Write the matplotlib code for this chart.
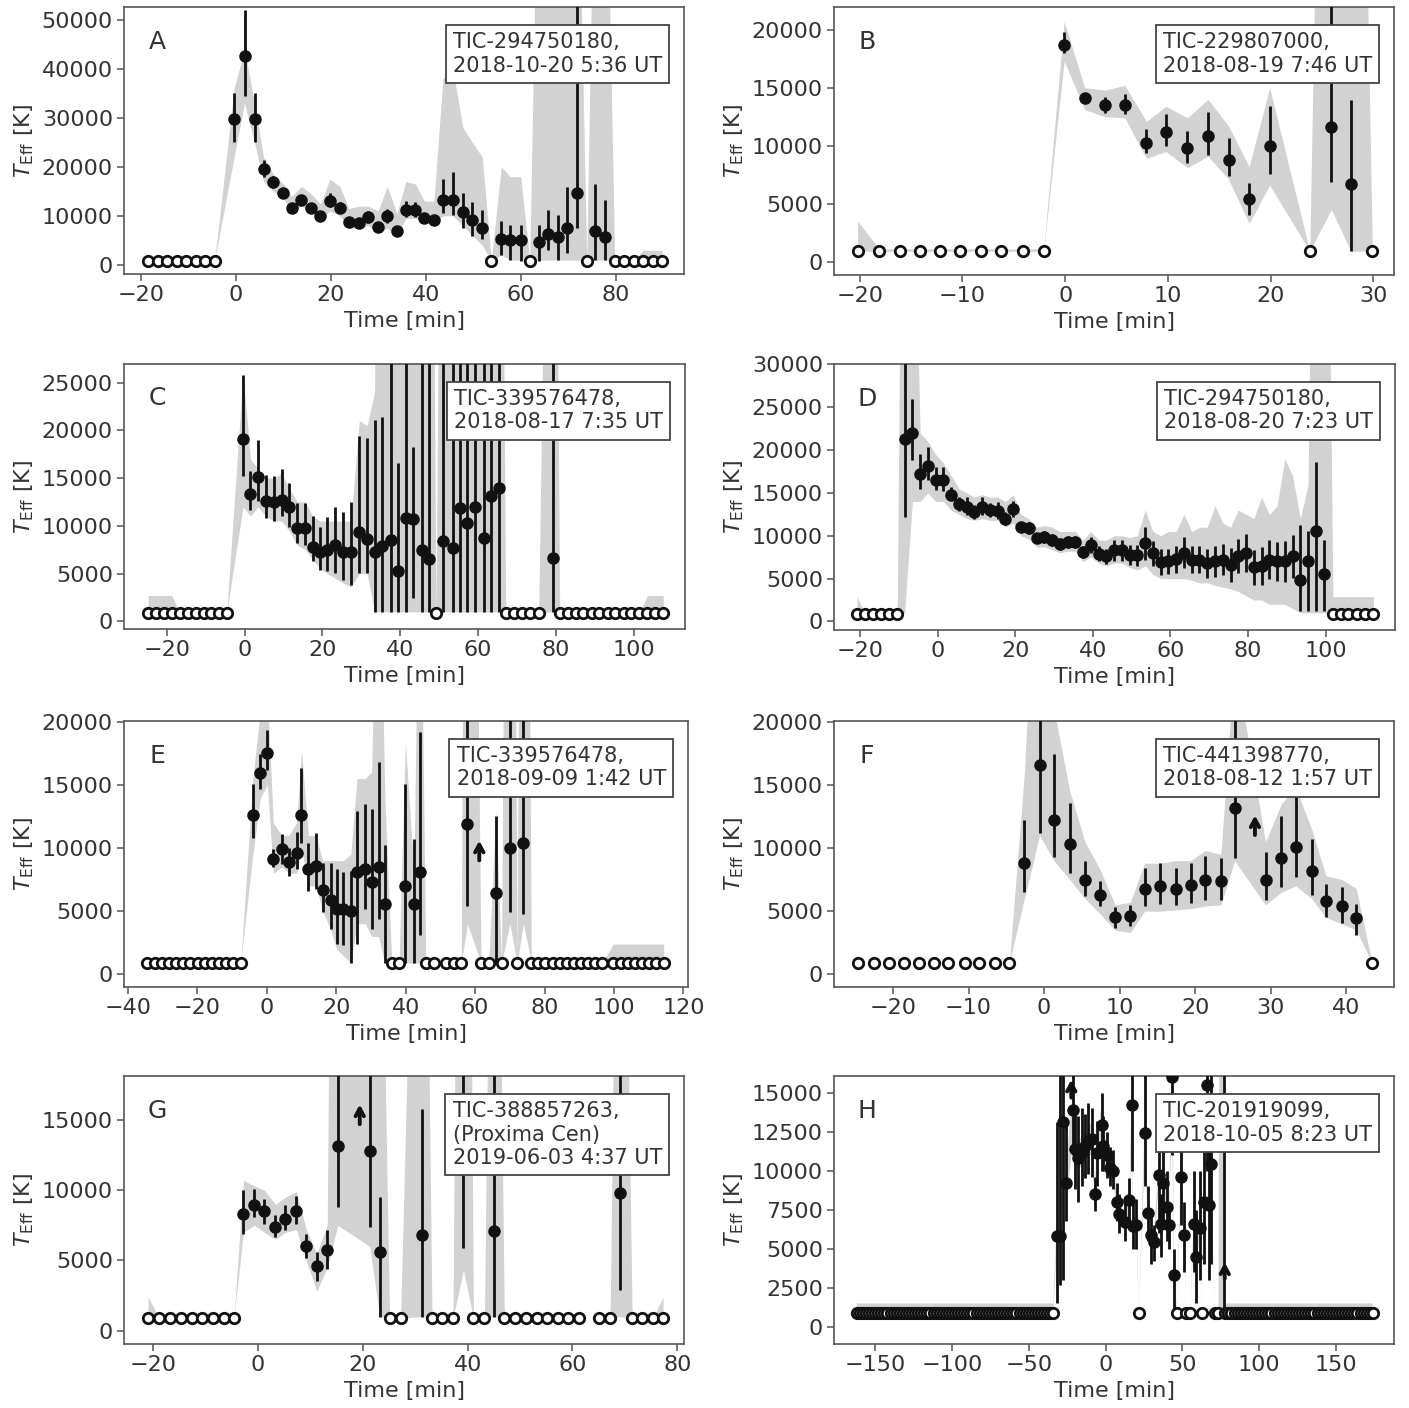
import numpy as np
import matplotlib.pyplot as plt

plt.rcParams['font.family'] = 'DejaVu Sans'
plt.rcParams['mathtext.fontset'] = 'dejavusans'

NONDET = 900      # level of the open circles (no detection)
OFF = 100000      # band edge that leaves the top of the panel

# ---------------- A ----------------
A_t = [-0.4, 1.8, 3.9, 5.8, 7.9, 10.0, 11.7, 13.8, 15.8, 17.8, 19.8, 21.9, 23.8, 25.9, 27.9, 29.9, 31.9,
       33.9, 35.8, 37.8, 39.7, 41.7, 43.6, 45.7, 47.8, 49.8, 51.9, 55.9, 57.8, 60.0, 63.8, 65.8, 67.9,
       69.8, 71.8, 75.7, 77.8]
A_T = [29700, 42700, 29700, 19600, 16900, 14700, 11700, 13200, 11700, 10000, 13100, 11700, 8700, 8500,
       9800, 7700, 10000, 7000, 11300, 11200, 9500, 9100, 13300, 13300, 10800, 9100, 7600, 5300, 5100,
       5100, 4600, 6400, 5600, 7500, 14700, 7000, 5600]
A_lo = [25000, 34400, 25000, 18000, 15600, 14000, 11300, 12300, 11200, 9500, 11800, 10800, 8200, 8000,
        8600, 7200, 8500, 6600, 9700, 9700, 8600, 8300, 10500, 10200, 7600, 6000, 5200, 2000, 1000, 700,
        700, 3000, 1000, 2400, 7500, 1000, 1000]
A_hi = [35000, 52000, 35000, 21500, 18200, 15400, 12200, 14300, 12200, 10500, 14600, 12800, 9200, 9000,
        11000, 8200, 11500, 7400, 13000, 12800, 10400, 10000, 17500, 19000, 14600, 12800, 11100, 9000,
        8100, 8100, 8100, 11200, 10100, 15800, 60000, 16600, 13200]
A_blo = [22000, 33000, 25000, 17000, 15000, 13500, 11000, 12000, 10800, 9500, 11000, 10000, 7500, 7500,
         8000, 6500, 7500, 6000, 9500, 9500, 8500, 8300, 10000, 10000, 8000, 6000, 4000, 2000, 1000, 1000,
         1000, 1000, 1000, 1000, 1000, 1000, 1000]
A_bhi = [36000, 44000, 33000, 22000, 18500, 16500, 14000, 16000, 14500, 12500, 17500, 16000, 11500,
         12000, 12000, 11000, 16000, 10500, 17000, 16500, 13000, 13000, 38000, 40000, 28000, 25000, 22000,
         20000, 18000, 18000, OFF, OFF, OFF, OFF, OFF, OFF, OFF]
A_tu = [-18.5, -16.5, -14.5, -12.5, -10.5, -8.5, -6.5, -4.5, 53.8, 61.9, 73.9, 79.8, 81.8, 83.8, 85.8,
        87.8, 89.8]
A_bu = [900, 900, 900, 900, 900, 900, 900, 900, 900, 900, 900, 900, 900, 900, 3000, 3000, 3000]

# ---------------- B ----------------
B_t = [-0.1, 1.9, 3.9, 5.8, 7.9, 9.8, 11.9, 13.9, 15.9, 17.9, 19.9, 25.9, 27.8]
B_T = [18700, 14100, 13500, 13500, 10200, 11200, 9800, 10850, 8800, 5400, 10000, 11600, 6700]
B_lo = [18000, 13800, 12800, 12700, 9400, 10000, 8500, 9200, 7400, 4000, 7600, 6900, 950]
B_hi = [19800, 14400, 14200, 14500, 11400, 12750, 11300, 12900, 10650, 6800, 13400, 30000, 13900]
B_blo = [17300, 13100, 12500, 12400, 8900, 9500, 8100, 9100, 7100, 3300, 6600, 4500, 900]
B_bhi = [20700, 15000, 14800, 15200, 12100, 13400, 12400, 14000, 11700, 8200, 15000, OFF, OFF]
B_tu = [-20.2, -18.1, -16.1, -14.1, -12.2, -10.2, -8.2, -6.2, -4.1, -2.1, 23.8, 29.9]
B_bu = [3500, 1100, 1100, 1100, 1100, 1100, 1100, 1100, 1100, 1100, 900, 900]

# ---------------- C ----------------
C_t = [-0.4, 1.5, 3.4, 5.5, 7.5, 9.5, 11.4, 13.5, 15.6, 17.5, 19.4, 21.3, 23.3, 25.4, 27.3, 29.5, 31.5,
       33.4, 35.4, 37.6, 39.5, 41.4, 43.3, 45.5, 47.5, 51.1, 53.5, 55.3, 57.2, 59.1, 61.5, 63.3, 65.4, 79.2]
C_T = [19100, 13300, 15100, 12650, 12550, 12700, 12000, 9800, 9800, 7800, 7250, 7500, 7950, 7250, 7250,
       9400, 8650, 7250, 7850, 8500, 5300, 10800, 10750, 7500, 6500, 8400, 7650, 11900, 10300, 12000,
       8700, 13100, 14000, 6600]
C_lo = [15200, 11700, 12600, 10800, 10500, 11000, 9900, 8200, 8000, 6300, 5400, 5300, 5050, 4350, 3800,
        5050, 5050, 1000, 1000, 1000, 1000, 1000, 2400, 1000, 1000, 1000, 1000, 1000, 1000, 1000, 1000,
        1000, 1000, 1000]
C_hi = [25800, 15700, 19000, 15300, 15200, 16000, 14500, 12400, 12400, 11000, 9900, 10900, 12000, 11500,
        12550, 19400, 19200, 21100, 21400, 30000, 16600, 30000, 18300, 30000, 30000, 30000, 30000, 30000,
        30000, 30000, 30000, 30000, 30000, 30000]
C_blo = [12000, 11000, 12000, 11000, 10500, 10500, 9500, 8000, 7500, 6500, 5500, 5000, 4500, 4000, 3600,
         5000, 5000, 1000, 1000, 1000, 1000, 1000, 1000, 1000, 1000, 1000, 1000, 1000, 1000, 1000, 1000,
         1000, 1000, 1000]
C_bhi = [26000, 17000, 16000, 15000, 15000, 15500, 14000, 12500, 12500, 11000, 10500, 10500, 10500,
         10500, 10500, 21000, 20500, 24000, OFF, OFF, OFF, OFF, OFF, OFF, OFF, OFF, OFF, OFF, OFF, OFF,
         OFF, OFF, OFF, OFF]
C_tu = [-24.8, -22.8, -20.7, -18.7, -16.7, -14.6, -12.6, -10.5, -8.6, -6.6, -4.6, 49.2, 67.1, 69.3, 71.3,
        73.4, 75.6, 81.0, 83.0, 85.1, 87.1, 89.2, 91.2, 93.3, 95.3, 97.4, 99.4, 101.5, 103.5, 105.6, 107.6]
C_bu = [2700, 2700, 2700, 2700, 900, 900, 900, 900, 900, 900, 900, 900, 900, 900, 900, 900, 900, 900,
        900, 900, 900, 900, 900, 900, 900, 900, 900, 900, 2700, 2700, 2700]

# ---------------- D ----------------
D_t = [-8.5, -6.5, -4.5, -2.5, -0.5, 1.5, 3.5, 5.5, 7.5, 9.5, 11.5, 13.5, 15.5, 17.5, 19.5, 21.5, 23.5,
       25.5, 27.5, 29.5, 31.5, 33.5, 35.5, 37.5, 39.5, 41.5, 43.5, 45.5, 47.5, 49.5, 51.5, 53.5, 55.5,
       57.5, 59.5, 61.5, 63.5, 65.5, 67.5, 69.5, 71.5, 73.5, 75.5, 77.5, 79.5, 81.5, 83.5, 85.5, 87.5,
       89.5, 91.5, 93.5, 95.5, 97.5, 99.5]
D_T = [21300, 22000, 17200, 18100, 16500, 16500, 14800, 13700, 13400, 12800, 13400, 13000, 12900, 12000,
       13100, 11000, 10850, 9700, 9800, 9500, 9000, 9300, 9300, 8100, 8900, 7900, 7600, 8300, 8300, 7750,
       7700, 9100, 7950, 6900, 7000, 7250, 8000, 7200, 7200, 6800, 7000, 7200, 6600, 7600, 7950, 6300,
       6500, 7200, 7000, 7000, 7600, 4800, 7000, 10600, 5500]
D_lo = [12200, 18800, 15500, 16500, 15300, 15200, 14100, 12900, 12400, 12000, 12400, 12200, 11900, 11200,
        12200, 10400, 10150, 9100, 9100, 8800, 8300, 8600, 8600, 7400, 8000, 7000, 6700, 7100, 7100, 6550,
        6500, 7200, 6500, 5400, 5500, 5650, 6200, 5600, 5600, 5100, 5200, 5400, 4600, 5600, 5750, 4300,
        4300, 4900, 4700, 4600, 5100, 1200, 1200, 1200, 1200]
D_hi = [40000, 26000, 19600, 20400, 18000, 18000, 15700, 14500, 14500, 13600, 14500, 13800, 13900, 12800,
        14100, 11600, 11550, 10300, 10500, 10200, 9700, 10000, 10000, 8800, 9800, 8800, 8500, 9500, 9500,
        8950, 8900, 11000, 9400, 8400, 8500, 8850, 9800, 8800, 8800, 8500, 8800, 9000, 8600, 9600, 10150,
        8300, 8700, 9500, 9300, 9400, 10100, 11200, 10500, 18600, 9500]
D_blo = [1000, 14000, 14000, 15000, 14000, 14000, 13000, 12500, 12000, 11800, 12000, 11800, 11800, 11000,
         11500, 10000, 9600, 8700, 8700, 8400, 8000, 8200, 8200, 7000, 7500, 6800, 6500, 6800, 6800, 6300,
         6000, 6500, 5500, 5000, 5000, 5000, 5000, 4800, 4500, 4500, 4200, 4000, 3800, 3500, 3000, 2500,
         2500, 2000, 2000, 2000, 1500, 1000, 1000, 1000, 1000]
D_bhi = [OFF, 60000, 22000, 21000, 19500, 18500, 17000, 15500, 15000, 14500, 14800, 14500, 14500, 14000,
         14800, 12500, 12000, 11000, 11200, 11000, 10500, 10500, 10500, 9500, 10500, 9500, 9500, 10000,
         10000, 9800, 10000, 13000, 10500, 10000, 10500, 10500, 12500, 10500, 11000, 11000, 13500, 11500,
         11000, 13000, 12500, 12000, 14500, 12500, 13500, 19000, 17000, 12000, 16000, OFF, OFF]
D_tu = [-20.8, -18.7, -16.7, -14.6, -12.5, -10.4, 101.9, 104.0, 105.9, 108.0, 110.1, 112.3]
D_bu = [2900, 900, 900, 900, 900, 900, 2900, 2900, 2900, 2900, 2900, 2900]

# ---------------- E ----------------
E_t = [-4.0, -1.8, 0.2, 1.9, 4.3, 6.4, 8.6, 10.0, 12.0, 14.2, 16.1, 18.5, 20.1, 22.0, 24.2, 26.0, 28.4,
       30.2, 32.2, 34.0, 39.9, 42.4, 44.0, 57.8, 66.0, 70.0, 73.9]
E_T = [12600, 15900, 17500, 9100, 9900, 8900, 9600, 12600, 8300, 8600, 6700, 5900, 5200, 5200, 5050,
       8100, 8300, 7300, 8500, 5600, 7000, 5600, 8100, 11900, 6400, 10000, 10400]
E_lo = [10800, 14700, 16200, 8500, 8700, 7800, 8300, 10400, 6600, 6750, 4900, 3600, 2400, 2300, 900,
        2400, 5200, 3600, 4400, 900, 900, 900, 3100, 5400, 900, 4900, 4800]
E_hi = [15100, 17400, 19300, 9900, 11100, 10000, 11300, 16300, 10400, 11200, 8850, 8850, 8300, 8100,
        8200, 12900, 13500, 13100, 16800, 10200, 15100, 10700, 19200, 50000, 12500, 50000, 50000]
E_blo = [9500, 14000, 15000, 8000, 8500, 8000, 8000, 10000, 7000, 7000, 5000, 3500, 2000, 1500, 900,
         4000, 4000, 3000, 3000, 900, 900, 900, 900, 4000, 900, 4000, 4000]
E_bhi = [15500, 21000, 22000, 12000, 11000, 11000, 12000, 17700, 11000, 11000, 9000, 9000, 9000, 9000,
         9500, 15500, 15500, 16000, 40000, 14000, 18500, 8000, 40000, OFF, 13000, OFF, OFF]
E_tu = [-34.4, -32.3, -30.2, -28.2, -26.1, -24.0, -22.0, -19.9, -17.8, -15.7, -13.7, -11.6, -9.6, -7.5,
        36.0, 38.1, 45.8, 48.1, 51.7, 53.9, 56.0, 61.7, 63.9, 67.6, 72.1, 76.2, 78.2, 80.2, 82.3, 84.3,
        86.4, 88.4, 90.5, 92.5, 94.6, 96.6, 99.8, 101.9, 104.0, 106.0, 108.1, 110.2, 112.2, 114.3]
E_bu = [900] * 36 + [2400] * 8
E_arrows = [(61.2, 8800, 10800)]

# ---------------- F ----------------
F_t = [-2.6, -0.6, 1.3, 3.4, 5.4, 7.4, 9.4, 11.4, 13.3, 15.4, 17.4, 19.4, 21.3, 23.4, 25.2, 29.3, 31.4,
       33.3, 35.4, 37.3, 39.4, 41.3]
F_T = [8800, 16600, 12200, 10300, 7500, 6300, 4500, 4650, 6750, 7000, 6750, 7050, 7500, 7350, 13200,
       7500, 9200, 10100, 8200, 5800, 5400, 4450]
F_lo = [6500, 11150, 9300, 8000, 6200, 5400, 3700, 3800, 5400, 5600, 5450, 5650, 5900, 5900, 9200, 5850,
        6900, 7700, 6300, 4500, 4100, 3100]
F_hi = [12200, 30000, 17400, 13600, 9000, 7400, 5300, 5500, 8400, 8800, 8450, 8800, 9400, 9200, 30000,
        9700, 12500, 14800, 10700, 7150, 6900, 5600]
F_blo = [6000, 11000, 9000, 7500, 6000, 4800, 3500, 3300, 5000, 5000, 5100, 5200, 5400, 5500, 9000, 5500,
         6500, 7000, 6000, 4500, 4000, 3500]
F_bhi = [16000, 40000, 21000, 14500, 10500, 8300, 5500, 5700, 8800, 8800, 9000, 9000, 9800, 9500, 25000,
         10500, 13500, 14800, 11500, 7800, 7500, 6800]
F_tu = [-24.6, -22.5, -20.5, -18.6, -16.6, -14.6, -12.7, -10.5, -8.6, -6.5, -4.6, 43.4]
F_bu = [900] * 12
F_arrows = [(27.9, 10800, 12800)]

# ---------------- G ----------------
G_t = [-2.8, -0.7, 1.2, 3.3, 5.2, 7.3, 9.2, 11.2, 13.2, 15.2, 21.3, 23.2, 31.3, 39.2, 45.1, 69.1]
G_T = [8300, 8950, 8500, 7400, 7950, 8500, 6000, 4600, 5750, 13150, 12800, 5600, 6800, 24000, 7100, 9800]
G_lo = [6900, 8100, 7600, 6700, 7200, 7600, 5200, 3500, 4400, 8800, 7400, 1000, 1000, 5900, 1000, 2900]
G_hi = [10000, 10100, 9400, 8200, 8950, 9600, 6900, 5600, 7200, 30000, 30000, 9500, 15800, 40000, 30000,
        30000]
G_blo = [7000, 7500, 7000, 6500, 7000, 7200, 5000, 2800, 4500, 7500, 6000, 1000, 1000, 4300, 1000, 1000]
G_bhi = [10700, 10300, 10000, 9000, 9500, 9900, 7200, 5500, 7500, OFF, OFF, 40000, 60000, OFF, 60000, 60000]
G_tu = [-21.0, -18.9, -16.9, -14.8, -12.7, -10.7, -8.6, -6.6, -4.6, 25.1, 27.2, 33.2, 35.1, 37.2, 41.1,
        43.2, 47.0, 49.1, 51.2, 53.2, 55.2, 57.2, 59.1, 61.2, 65.1, 67.2, 71.4, 73.3, 75.4, 77.3]
G_bu = [2400] + [900] * 28 + [2400]
G_arrows = [(19.4, 14500, 16300)]

# ---------------- H ----------------
H_t = [-31.8, -29.6, -27.6, -25.5, -21.0, -19.9, -17.8, -15.6, -13.4, -11.2, -9.1, -6.9, -5.8, -2.6, -1.5,
       0.7, 2.9, 5.1, 7.2, 8.8, 12.4, 15.5, 17.2, 18.0, 19.8, 25.5, 27.4, 29.8, 31.5, 34.6, 36.3, 37.5,
       39.9, 41.1, 43.4, 44.6, 48.9, 51.3, 57.5, 59.0, 61.5, 64.2, 66.1, 67.3, 68.5, 76.8]
H_T = [5800, 5800, 13100, 9200, 13900, 11400, 10800, 11200, 11600, 11900, 12000, 8500, 11100, 12900,
       11600, 11000, 10200, 10000, 8000, 7250, 6700, 8100, 14200, 6450, 6550, 12400, 7300, 5900, 5400,
       9700, 6600, 9200, 7700, 6500, 16000, 3350, 9600, 5900, 6600, 4500, 6300, 8000, 15500, 7800, 10400,
       20000]
H_lo = [1500, 2700, 3000, 6800, 11000, 8800, 8000, 9000, 9500, 9800, 9600, 7400, 9000, 10000, 10000,
        9500, 9000, 8800, 6800, 6000, 5500, 6500, 10000, 5000, 5000, 9000, 5500, 4000, 4200, 6000, 4500,
        6500, 5500, 5000, 11000, 900, 6500, 3500, 3500, 1500, 3000, 4000, 10000, 3000, 4000, 900]
H_hi = [13100, 16100, 17000, 13400, 17000, 13800, 13500, 14000, 13600, 14300, 14000, 9600, 13200, 15000,
        13500, 12500, 11500, 11300, 9200, 8500, 8000, 9500, 17000, 8000, 8200, 17000, 9000, 7500, 6500,
        12000, 8500, 12000, 10000, 8000, 20000, 5000, 13000, 8000, 10000, 7500, 10000, 13000, 18000, 12000,
        17000, 30000]
H_blo = [5000, 5000, 11000, 8000, 12000, 10500, 10000, 10300, 10500, 11000, 11000, 8000, 10300, 11500,
         10800, 10200, 9500, 9300, 7500, 6700, 6200, 7500, 12500, 6000, 6000, 11000, 6800, 5500, 5000,
         9000, 6000, 8500, 7000, 6000, 14000, 900, 8500, 5500, 6000, 4000, 5800, 7300, 14000, 7000, 9500, 900]
H_bhi = [6800, 7000, 15000, 10500, 15500, 12500, 11800, 12200, 12800, 12900, 13000, 9000, 12000, 14200,
         12500, 11800, 10900, 10700, 8600, 7800, 7300, 8800, 15800, 7000, 7200, 13500, 7900, 6400, 5900,
         10500, 7200, 10000, 8400, 7000, 17500, 4000, 10500, 6400, 7200, 5000, 6800, 8800, 17000, 8600,
         11300, OFF]
H_tu = [-162, -160, -158, -156, -154, -152, -150, -148, -146, -144, -142, -140, -138, -136, -134, -132,
        -130, -128, -126, -124, -122, -120, -118, -116, -114, -112, -110, -108, -106, -104, -102, -100,
        -98, -96, -94, -92, -90, -88, -86, -84, -82, -80, -78, -76, -74, -72, -70, -68, -66, -64, -62, -60,
        -58, -56, -54, -52, -50, -48, -46, -44, -42, -40, -38, -36, -34,
        21.8, 46.5, 52.5, 55.0, 63.0, 71.0, 73.5,
        78, 80, 82, 84, 86, 88, 90, 92, 94, 96, 98, 100, 102, 104, 106, 108, 110, 112, 114, 116, 118, 120,
        122, 124, 126, 128, 130, 132, 134, 136, 138, 140, 142, 144, 146, 148, 150, 152, 154, 156, 158, 160,
        162, 164, 166, 168, 170, 172, 174]
H_bu = [1500] * 65 + [900] * 7 + [1500] * 49
H_arrows = [(-22.3, 14500, 16000), (77.6, 2900, 4300)]

# ----------- panel geometry in pixels (left, top, right, bottom) -----------
W, H = 1409, 1408
panels = [
    ('A', (124, 7, 684, 274), 'TIC-294750180,\n2018-10-20 5:36 UT',
     A_t, A_T, A_lo, A_hi, A_blo, A_bhi, A_tu, A_bu, [],
     (-23.6, 94.4), (-1850, 52600), range(-20, 81, 20), range(0, 50001, 10000)),
    ('B', (834, 7, 1394, 275), 'TIC-229807000,\n2018-08-19 7:46 UT',
     B_t, B_T, B_lo, B_hi, B_blo, B_bhi, B_tu, B_bu, [],
     (-22.5, 32.0), (-1150, 21960), range(-20, 31, 10), range(0, 20001, 5000)),
    ('C', (124, 364, 685, 629), 'TIC-339576478,\n2018-08-17 7:35 UT',
     C_t, C_T, C_lo, C_hi, C_blo, C_bhi, C_tu, C_bu, [],
     (-31.0, 113.2), (-800, 26950), range(-20, 101, 20), range(0, 25001, 5000)),
    ('D', (834, 364, 1395, 630), 'TIC-294750180,\n2018-08-20 7:23 UT',
     D_t, D_T, D_lo, D_hi, D_blo, D_bhi, D_tu, D_bu, [],
     (-26.7, 117.9), (-1000, 30050), range(-20, 101, 20), range(0, 30001, 5000)),
    ('E', (124, 721, 688, 987), 'TIC-339576478,\n2018-09-09 1:42 UT',
     E_t, E_T, E_lo, E_hi, E_blo, E_bhi, E_tu, E_bu, E_arrows,
     (-41.1, 121.3), (-1000, 20050), range(-40, 121, 20), range(0, 20001, 5000)),
    ('F', (834, 721, 1394, 987), 'TIC-441398770,\n2018-08-12 1:57 UT',
     F_t, F_T, F_lo, F_hi, F_blo, F_bhi, F_tu, F_bu, F_arrows,
     (-27.8, 46.3), (-1000, 20050), range(-20, 41, 10), range(0, 20001, 5000)),
    ('G', (124, 1076, 684, 1344), 'TIC-388857263,\n(Proxima Cen)\n2019-06-03 4:37 UT',
     G_t, G_T, G_lo, G_hi, G_blo, G_bhi, G_tu, G_bu, G_arrows,
     (-25.6, 81.3), (-950, 18130), range(-20, 81, 20), range(0, 15001, 5000)),
    ('H', (834, 1076, 1394, 1344), 'TIC-201919099,\n2018-10-05 8:23 UT',
     H_t, H_T, H_lo, H_hi, H_blo, H_bhi, H_tu, H_bu, H_arrows,
     (-176.8, 187.8), (-1100, 16060), range(-150, 151, 50), range(0, 15001, 2500)),
]

INK = '#111111'
TXT = '#333333'
EDGE = '#555555'

fig = plt.figure(figsize=(W / 100, H / 100), dpi=100)

for (letter, (l, t, r, b), label, tt, TT, lo, hi, blo, bhi, tu, bu, arrows,
     xlim, ylim, xticks, yticks) in panels:
    ax = fig.add_axes([l / W, 1 - b / H, (r - l) / W, (b - t) / H])
    tt = np.array(tt, float)
    TT = np.array(TT, float)

    # grey band (detections + non-detections in time order)
    tb = np.concatenate([tt, np.array(tu, float)])
    order = np.argsort(tb)
    band_lo = np.concatenate([blo, [NONDET] * len(tu)])[order]
    band_hi = np.concatenate([bhi, bu])[order]
    ax.fill_between(tb[order], band_lo, band_hi, color='#d2d2d2', lw=0, zorder=1)

    yerr = [TT - np.array(lo), np.array(hi) - TT]
    ax.errorbar(tt, TT, yerr=yerr, fmt='o', color=INK, ms=8, elinewidth=2.0,
                capsize=0, zorder=3)
    ax.plot(tu, [NONDET] * len(tu), 'o', ls='none', mfc='white', mec=INK, mew=2.0,
            ms=7.5, zorder=4)
    for x, y0, y1 in arrows:
        ax.annotate('', xy=(x, y1), xytext=(x, y0),
                    arrowprops=dict(arrowstyle='->,head_length=0.55,head_width=0.3',
                                    color=INK, lw=2.8), zorder=5)

    ax.set_xlim(*xlim)
    ax.set_ylim(*ylim)
    ax.set_xticks(list(xticks))
    ax.set_yticks(list(yticks))
    ax.tick_params(direction='out', length=5, width=1.1, color=EDGE,
                   labelsize=16, labelcolor=TXT, pad=3)
    for s in ax.spines.values():
        s.set_color(EDGE)
        s.set_linewidth(1.2)
    ax.set_xlabel('Time [min]', fontsize=16, color=TXT, labelpad=4)
    ax.set_ylabel(r'$T_{\rm Eff}$ [K]', fontsize=16, color=TXT, labelpad=4)

    ax.text(0.059, 0.87, letter, transform=ax.transAxes, ha='center', va='center',
            fontsize=18, color=TXT)
    # info box, anchored at its right edge, lines left-justified
    ax.text(0.961, 0.905, label, transform=ax.transAxes, ha='right', va='top',
            multialignment='left', fontsize=15, color=TXT, linespacing=1.2, zorder=6,
            bbox=dict(boxstyle='square,pad=0.35', fc='white', ec='#444444', lw=1.3))

fig.savefig('out.png', dpi=100, facecolor='white')
